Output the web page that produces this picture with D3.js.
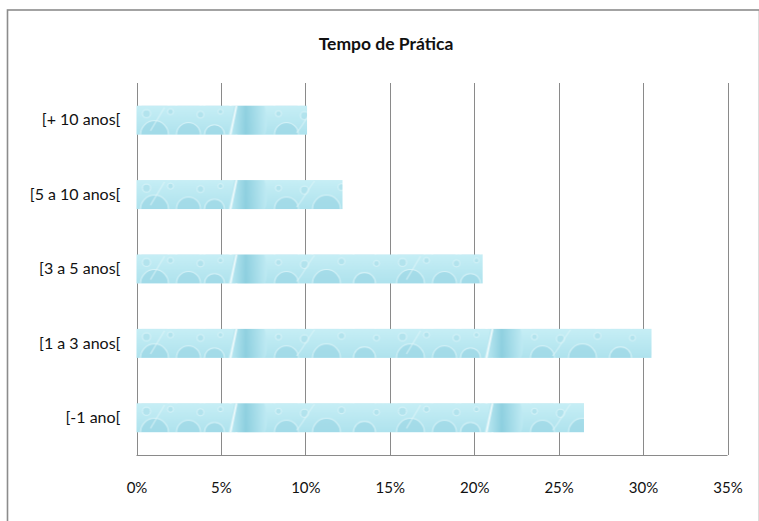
<!DOCTYPE html>
<html>
<head>
<meta charset="utf-8">
<script src="https://cdn.jsdelivr.net/npm/d3@7"></script>
<style>
  html, body { margin: 0; padding: 0; background: #fff; }
  svg { display: block; }
  text { font-family: Lato, "Open Sans", sans-serif; fill: #111; }
</style>
</head>
<body>
<svg id="chart" width="759" height="521"></svg>
<script>
// Practice time distribution (share of respondents)
const categories = ["[+ 10 anos[", "[5 a 10 anos[", "[3 a 5 anos[", "[1 a 3 anos[", "[-1 ano["];
const values = [0.101, 0.122, 0.205, 0.305, 0.265];
const tickValues = [0, 0.05, 0.10, 0.15, 0.20, 0.25, 0.30, 0.35];
const title = "Tempo de Prática";

const plot = { left: 136.5, right: 727.5, top: 83, bottom: 455 };

const svg = d3.select("#chart");

// chart frame (right and bottom edges fall outside the view)
svg.append("rect")
  .attr("x", 7.5).attr("y", 10)
  .attr("width", 752).attr("height", 520)
  .attr("fill", "#fff")
  .attr("stroke", "#8c8c8c")
  .attr("stroke-width", 1.6);

const x = d3.scaleLinear().domain([0, 0.35]).range([plot.left, plot.right]);
const y = d3.scaleBand().domain(categories).range([plot.top, plot.bottom]).paddingInner(0.61).paddingOuter(0.305);

// vertical gridlines
svg.append("g")
  .selectAll("line")
  .data(tickValues)
  .join("line")
  .attr("x1", d => Math.round(x(d)) + 0.5)
  .attr("x2", d => Math.round(x(d)) + 0.5)
  .attr("y1", plot.top)
  .attr("y2", plot.bottom)
  .attr("stroke", "#8a8a8a")
  .attr("stroke-width", 1);

// bottom axis with percentage labels, no tick marks
const xAxis = d3.axisBottom(x)
  .tickValues(tickValues)
  .tickFormat(d3.format(".0%"))
  .tickSize(0)
  .tickPadding(0);
const gx = svg.append("g")
  .attr("transform", `translate(0,${plot.bottom + 0.5})`)
  .call(xAxis);
gx.select(".domain").attr("stroke", "#8a8a8a").attr("d", `M${plot.left},0H${plot.right}`);
gx.selectAll("text")
  .attr("y", 33)
  .attr("dy", "0.32em")
  .style("font-family", "Lato, 'Open Sans', sans-serif")
  .style("font-size", "15px")
  .attr("fill", "#111");

// category axis labels
const yAxis = d3.axisLeft(y).tickSize(0).tickPadding(16);
const gy = svg.append("g")
  .attr("transform", `translate(${plot.left},0)`)
  .call(yAxis);
gy.select(".domain").remove();
gy.selectAll("text")
  .style("font-family", "Lato, 'Open Sans', sans-serif")
  .style("font-size", "16px")
  .attr("fill", "#111");

// water-drop texture for the bars
const defs = svg.append("defs");
const grad = defs.append("linearGradient").attr("id", "deep").attr("x1", 0).attr("x2", 1).attr("y1", 0).attr("y2", 0);
grad.append("stop").attr("offset", 0).attr("stop-color", "#c4edf5");
grad.append("stop").attr("offset", 0.45).attr("stop-color", "#86cbdc");
grad.append("stop").attr("offset", 1).attr("stop-color", "#bfeaf3");

const vgrad = defs.append("linearGradient").attr("id", "shade").attr("x1", 0).attr("x2", 0).attr("y1", 0).attr("y2", 1);
vgrad.append("stop").attr("offset", 0).attr("stop-color", "#c6eef5");
vgrad.append("stop").attr("offset", 1).attr("stop-color", "#aee2ed");

const tileW = 256;
const bh = y.bandwidth();

categories.forEach((c, i) => {
  const p = defs.append("pattern")
    .attr("id", "tex" + i)
    .attr("patternUnits", "userSpaceOnUse")
    .attr("x", plot.left).attr("y", y(c))
    .attr("width", tileW).attr("height", bh);
  p.append("rect").attr("width", tileW).attr("height", bh).attr("fill", "url(#shade)");
  // dark column behind the bright streak
  p.append("path")
    .attr("d", `M98,0 L128,0 C132,${bh*0.5} 130,${bh} 128,${bh} L92,${bh} Z`)
    .attr("fill", "url(#deep)").attr("opacity", 0.85);
  // arcs along the bottom edge
  const arcs = [[18, 14], [52, 12], [78, 10], [150, 12], [190, 14], [228, 11]];
  arcs.forEach(([cx, r]) => {
    p.append("path")
      .attr("d", `M${cx - r},${bh} A${r},${r} 0 0 1 ${cx + r},${bh}`)
      .attr("fill", "#9dd7e5").attr("stroke", "#e6f8fb").attr("stroke-width", 1).attr("opacity", 0.7);
  });
  // drops
  const drops = [[10, 8, 4], [34, 6, 3], [64, 9, 3.5], [84, 6, 2.5], [142, 8, 3], [168, 10, 4], [205, 7, 3.5], [240, 9, 3]];
  drops.forEach(([cx, cy, r]) => {
    p.append("circle").attr("cx", cx).attr("cy", cy).attr("r", r)
      .attr("fill", "#aee0eb").attr("stroke", "#e9fafc").attr("stroke-width", 0.8).attr("opacity", 0.75);
  });
  // slanted highlight streaks
  p.append("path")
    .attr("d", `M100,0 L94,${bh}`)
    .attr("stroke", "#f2fcfd").attr("stroke-width", 2).attr("opacity", 0.9);
  p.append("path")
    .attr("d", `M28,2 L14,${bh - 4}`)
    .attr("stroke", "#e3f7fa").attr("stroke-width", 1).attr("opacity", 0.7);
  p.append("path")
    .attr("d", `M178,1 C170,${bh*0.4} 166,${bh*0.7} 160,${bh-2}`)
    .attr("stroke", "#e3f7fa").attr("stroke-width", 1).attr("fill", "none").attr("opacity", 0.7);
});

// bars
svg.append("g")
  .selectAll("rect")
  .data(categories)
  .join("rect")
  .attr("x", x(0))
  .attr("y", d => y(d))
  .attr("width", (d, i) => x(values[i]) - x(0))
  .attr("height", bh)
  .attr("fill", (d, i) => `url(#tex${i})`);

// title
svg.append("text")
  .attr("x", 386)
  .attr("y", 50)
  .attr("text-anchor", "middle")
  .style("font-size", "17.5px")
  .style("font-weight", "bold")
  .text(title);
</script>
</body>
</html>
